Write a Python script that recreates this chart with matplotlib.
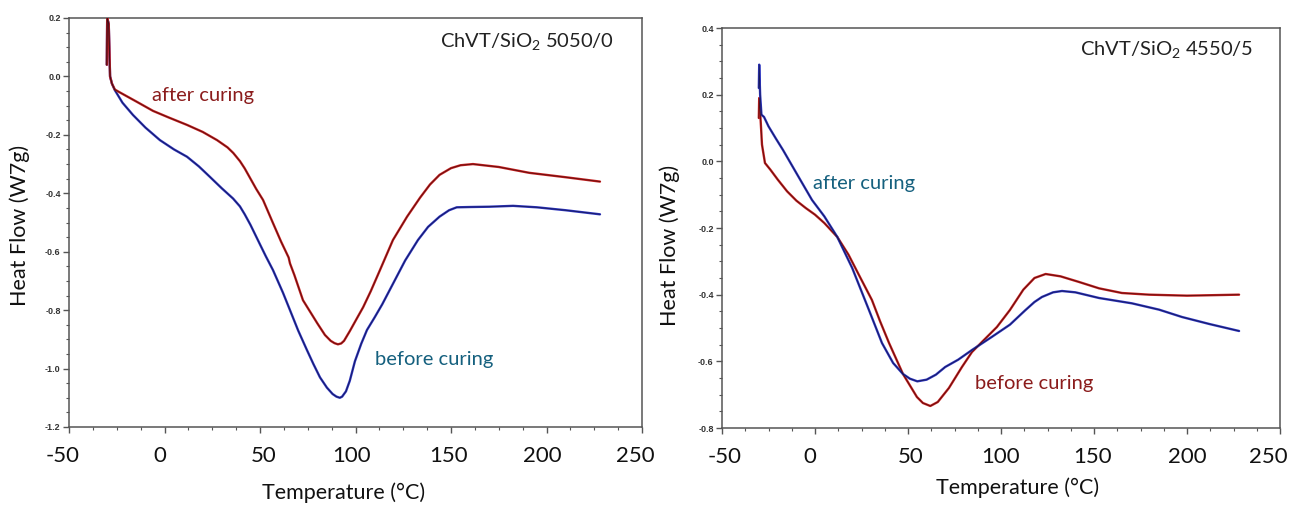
import matplotlib
matplotlib.use("Agg")
import matplotlib.pyplot as plt
import matplotlib.transforms as mtransforms
from matplotlib.ticker import MultipleLocator, FixedLocator

plt.rcParams['font.family'] = ['Lato', 'DejaVu Sans']
plt.rcParams['mathtext.fontset'] = 'custom'
plt.rcParams['mathtext.rm'] = 'Lato'
plt.rcParams['mathtext.it'] = 'Lato'

# ---------------- data: left panel (ChVT/SiO2 5050/0) ----------------
left_after_T = [-30.2, -30.0, -29.2, -28.5, -27.5, -26.0, -23.3, -15.0, -6.0, 2.0, 11.8,
                20.0, 27.5, 33.0, 36.0, 39.5, 42.0, 45.0, 48.0, 51.6, 56.8, 61.0, 65.0, 65.7,
                68.0, 72.5, 76.2, 80.0, 84.0, 87.0, 89.0, 90.8, 92.5, 94.0, 97.0, 101.0, 104.0,
                108.0, 112.8, 119.6, 127.0, 133.8, 139.0, 144.0, 150.0, 155.0, 161.5, 175.0,
                191.0, 210.0, 228.0]
left_after_v = [0.04, 0.20, 0.18, 0.00, -0.025, -0.045, -0.055, -0.085, -0.118, -0.140, -0.166,
                -0.190, -0.218, -0.243, -0.262, -0.290, -0.315, -0.350, -0.385, -0.423, -0.502,
                -0.565, -0.620, -0.640, -0.680, -0.766, -0.805, -0.845, -0.885, -0.905, -0.913,
                -0.917, -0.914, -0.905, -0.872, -0.825, -0.790, -0.735, -0.663, -0.560, -0.480,
                -0.415, -0.370, -0.337, -0.314, -0.304, -0.300, -0.310, -0.330, -0.345, -0.360]

left_before_T = [-30.2, -30.0, -29.2, -28.5, -27.5, -26.0, -22.0, -16.5, -10.0, -2.4, 5.0,
                 11.8, 18.0, 23.8, 30.0, 35.9, 39.5, 42.0, 45.0, 50.0, 53.0, 56.8, 62.0, 65.7,
                 70.0, 74.6, 78.0, 81.4, 85.0, 88.0, 90.0, 91.8, 93.0, 95.0, 97.0, 99.7, 103.0,
                 106.0, 110.0, 114.0, 120.0, 126.0, 132.7, 138.0, 144.0, 149.0, 153.0, 160.0,
                 170.0, 182.5, 195.0, 210.0, 228.0]
left_before_v = [0.04, 0.20, 0.18, 0.00, -0.025, -0.047, -0.090, -0.132, -0.175, -0.218, -0.250,
                 -0.275, -0.308, -0.344, -0.383, -0.418, -0.445, -0.472, -0.508, -0.575, -0.615,
                 -0.663, -0.740, -0.800, -0.870, -0.937, -0.985, -1.030, -1.065, -1.087, -1.096,
                 -1.100, -1.096, -1.078, -1.042, -0.975, -0.915, -0.868, -0.825, -0.780, -0.705,
                 -0.630, -0.560, -0.515, -0.480, -0.458, -0.448, -0.447, -0.446, -0.443, -0.448,
                 -0.458, -0.472]

# ---------------- data: right panel (ChVT/SiO2 4550/5) ----------------
right_after_T = [-30.2, -30.0, -29.5, -28.8, -27.4, -25.0, -21.0, -17.2, -9.0, -1.6, 5.0,
                 12.0, 20.0, 29.0, 36.0, 42.0, 47.3, 51.0, 55.0, 60.0, 65.0, 70.0, 77.0,
                 84.4, 95.0, 104.8, 113.0, 118.0, 122.0, 128.0, 132.8, 140.0, 152.7, 170.4,
                 185.0, 197.3, 212.0, 228.0]
right_after_v = [0.22, 0.29, 0.20, 0.14, 0.133, 0.105, 0.068, 0.034, -0.045, -0.116, -0.165,
                 -0.227, -0.320, -0.446, -0.545, -0.605, -0.638, -0.652, -0.660, -0.655, -0.640,
                 -0.617, -0.595, -0.566, -0.527, -0.490, -0.447, -0.422, -0.407, -0.393, -0.389,
                 -0.393, -0.410, -0.426, -0.445, -0.467, -0.488, -0.509]

right_before_T = [-30.2, -30.0, -29.5, -28.5, -26.9, -24.0, -20.0, -15.0, -10.0, -5.0, 0.0,
                  5.0, 12.0, 18.0, 24.0, 30.6, 35.0, 39.8, 47.3, 54.8, 58.0, 62.0, 66.0, 72.0,
                  79.0, 84.4, 91.0, 97.8, 104.8, 112.0, 118.0, 124.0, 132.0, 142.0, 152.7,
                  165.0, 179.6, 200.0, 228.0]
right_before_v = [0.13, 0.19, 0.15, 0.05, -0.005, -0.025, -0.055, -0.090, -0.118, -0.140, -0.160,
                  -0.185, -0.227, -0.280, -0.345, -0.416, -0.480, -0.545, -0.638, -0.707, -0.725,
                  -0.734, -0.722, -0.680, -0.617, -0.572, -0.535, -0.497, -0.446, -0.385, -0.350,
                  -0.338, -0.345, -0.362, -0.381, -0.395, -0.400, -0.403, -0.400]

xtick_vals = [-50, 0, 50, 100, 150, 200, 250]
xtick_labels = ['-50', '0', '50', '100', '150', '200', '250']
left_yticks = [0.2, 0.0, -0.2, -0.4, -0.6, -0.8, -1.0, -1.2]
right_yticks = [0.4, 0.2, 0.0, -0.2, -0.4, -0.6, -0.8]

# horizontal nudges (pixels) of the big x tick labels, as in the reference layout
left_label_dx = [-6, -5, 4, -4, -2, -4, -7]
right_label_dx = [3, -5, 3, 0, -1, 0, -12]

RED = '#c62020'
RED_DARK = '#3a0808'
BLUE = '#2d35c0'
BLUE_DARK = '#10103a'
TXT_RED = '#8b1c1c'
TXT_BLUE = '#15607e'
SPINE = '#555555'

W, H = 1289, 505
fig = plt.figure(figsize=(W / 100, H / 100), dpi=100)


def px_rect(x0, y0, x1, y1):
    return [x0 / W, 1 - y1 / H, (x1 - x0) / W, (y1 - y0) / H]


def style_axes(ax, ylim, yticks, label_dx):
    ax.set_xlim(-50, 250)
    ax.set_ylim(*ylim)
    ax.xaxis.set_major_locator(FixedLocator(xtick_vals))
    ax.set_xticklabels(xtick_labels)
    ax.xaxis.set_minor_locator(MultipleLocator(12.5))
    ax.yaxis.set_major_locator(FixedLocator(yticks))
    ax.set_yticklabels([f'{v:.1f}' for v in yticks])
    ax.yaxis.set_minor_locator(MultipleLocator(0.05))
    for s in ax.spines.values():
        s.set_color(SPINE)
        s.set_linewidth(1.1)
    ax.tick_params(axis='x', which='major', direction='out', length=4, width=1,
                   color=SPINE, labelsize=16, pad=10, labelcolor='#111111')
    ax.tick_params(axis='x', which='minor', direction='out', length=2.5, width=0.8, color=SPINE)
    ax.tick_params(axis='y', which='major', direction='out', length=4, width=1,
                   color=SPINE, labelsize=6.5, pad=2, labelcolor='#333333')
    ax.tick_params(axis='y', which='minor', direction='out', length=2.5, width=0.8, color=SPINE)
    for lab in ax.get_yticklabels():
        lab.set_fontfamily(['Liberation Sans', 'DejaVu Sans'])
        lab.set_fontweight('bold')
    for lab, dx in zip(ax.get_xticklabels(), label_dx):
        lab.set_transform(lab.get_transform() +
                          mtransforms.ScaledTranslation(dx / 100, 0, fig.dpi_scale_trans))


def draw(ax, T, v, c, dark):
    ax.plot(T, v, color=c, lw=1.7, solid_capstyle='round', solid_joinstyle='round', zorder=3)
    ax.plot(T, v, color=dark, lw=0.6, alpha=0.75, solid_joinstyle='round', zorder=4)


# left panel
axL = fig.add_axes(px_rect(69, 18, 642, 427))
style_axes(axL, (-1.2, 0.2), left_yticks, left_label_dx)
draw(axL, left_before_T, left_before_v, BLUE, BLUE_DARK)
draw(axL, left_after_T, left_after_v, RED, RED_DARK)

# right panel
axR = fig.add_axes(px_rect(722, 28, 1280, 428))
style_axes(axR, (-0.8, 0.4), right_yticks, right_label_dx)
draw(axR, right_before_T, right_before_v, RED, RED_DARK)
draw(axR, right_after_T, right_after_v, BLUE, BLUE_DARK)


def ftext(x, y, s, **kw):
    fig.text(x / W, 1 - y / H, s, **kw)


# panel titles
ftext(440, 42, 'ChVT/SiO$_2$ 5050/0', fontsize=14.5, color='#222222', va='center', ha='left')
ftext(1080, 50, 'ChVT/SiO$_2$ 4550/5', fontsize=14.5, color='#222222', va='center', ha='left')

# curve labels
ftext(152, 96, 'after curing', fontsize=14.5, color=TXT_RED, va='center', ha='left')
ftext(375, 360, 'before curing', fontsize=14.5, color=TXT_BLUE, va='center', ha='left')
ftext(813, 183, 'after curing', fontsize=14.5, color=TXT_BLUE, va='center', ha='left')
ftext(975, 383, 'before curing', fontsize=14.5, color=TXT_RED, va='center', ha='left')

# axis labels
ftext(20, 225, 'Heat Flow (W7g)', fontsize=15.5, color='#111111', rotation=90, va='center', ha='center')
ftext(670, 245, 'Heat Flow (W7g)', fontsize=15.5, color='#111111', rotation=90, va='center', ha='center')
ftext(344, 493, 'Temperature (°C)', fontsize=15.5, color='#111111', va='center', ha='center')
ftext(1018, 488, 'Temperature (°C)', fontsize=15.5, color='#111111', va='center', ha='center')

fig.savefig('out.png', dpi=100)
